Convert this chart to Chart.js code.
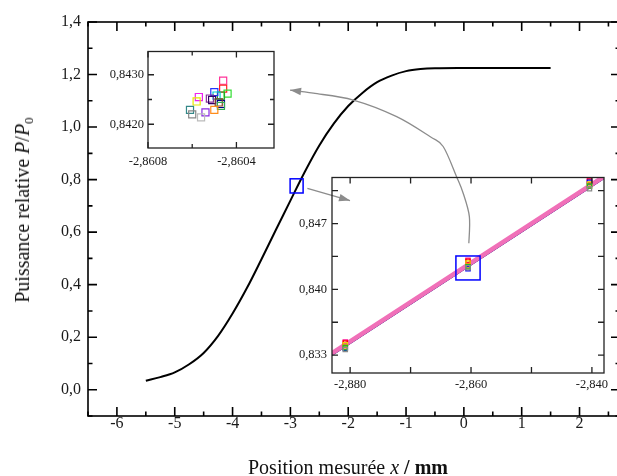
<!DOCTYPE html>
<html><head><meta charset="utf-8">
<script src="https://cdn.jsdelivr.net/npm/chart.js@4"></script>
<style>
html,body{margin:0;padding:0;background:#fff;overflow:hidden;width:617px;height:476px}
#wrap{position:relative;width:617px;height:476px;overflow:hidden}
canvas{position:absolute}
#main{left:0;top:0}
#in1{left:100px;top:40px}
#in2{left:280px;top:165px}
.t{position:absolute;font-family:"Liberation Serif","Times New Roman",serif;font-size:20px;color:#111;white-space:nowrap;line-height:20px}
.t sub{font-size:0.65em;vertical-align:-0.3em;line-height:0}
#xt{left:348px;top:457px;transform:translateX(-50%)}
#yt{left:22px;top:210px;transform:translate(-50%,-50%) rotate(-90deg)}
</style></head><body>
<div id="wrap">
<canvas id="main" width="630" height="476"></canvas>
<canvas id="in1" width="185" height="135"></canvas>
<canvas id="in2" width="337" height="240"></canvas>
<div class="t" id="xt">Position mesurée <i>x</i> <b>/ mm</b></div>
<div class="t" id="yt">Puissance relative <i>P</i>/<i>P</i><sub>0</sub></div>
</div>
<script>
// ---------- main curve ----------
const mainX = [-5.5,-5.25,-5.0,-4.75,-4.5,-4.25,-4.0,-3.75,-3.5,-3.25,-3.0,-2.75,-2.5,-2.25,-2.0,-1.75,-1.5,-1.25,-1.0,-0.75,-0.5,0,0.5,1.0,1.5];
const mainY = [0.034,0.048,0.066,0.097,0.140,0.205,0.290,0.388,0.497,0.609,0.720,0.830,0.930,1.013,1.080,1.131,1.171,1.196,1.213,1.221,1.224,1.225,1.225,1.225,1.225];
const mainXTicks = [-6,-5,-4,-3,-2,-1,0,1,2];
const mainXTickLabels = ['-6','-5','-4','-3','-2','-1','0','1','2'];
const mainYTicks = [0,0.2,0.4,0.6,0.8,1.0,1.2,1.4];
const mainYTickLabels = ['0,0','0,2','0,4','0,6','0,8','1,0','1,2','1,4'];
// blue box on main curve [xmin,xmax,ymin,ymax]
const mainBox = [-3.005,-2.78,0.749,0.803];
// arrows (main data coordinates)
const arrow1 = [[-2.706,0.767],[-1.969,0.720]];
const arrow2 = [[0.086,0.558],[0.095,0.659],[-0.012,0.748],[-0.126,0.811],[-0.358,0.926],[-0.587,0.964],[-1.162,1.040],[-1.912,1.103],[-2.603,1.129],[-3.005,1.141]];

// ---------- inset 1 (zoomed scatter) ----------
const in1X = [-2.86046,-2.86046,-2.86044,-2.86047,-2.86050,-2.86049,-2.86057,-2.86058,-2.86052,-2.86051,-2.86047,-2.86048,-2.86047,-2.86050,-2.86054,-2.86061,-2.86060,-2.86056];
const in1Y = [0.84288,0.84272,0.84262,0.84258,0.84265,0.84258,0.84255,0.84246,0.84252,0.84249,0.84241,0.84244,0.84237,0.84229,0.84224,0.84229,0.84220,0.84214];
const in1Colors = ['#ff3399','#ff2222','#33dd33','#22aa22','#2233ff','#00cccc','#ee22ee','#e8e800','#883399','#330066','#000088','#884422','#33aa55','#ff8c1a','#8a2be2','#338888','#888888','#bbbbbb'];
const in1XTicks = [-2.8608,-2.8604];
const in1XTickLabels = ['-2,8608','-2,8604'];
const in1YTicks = [0.8420,0.8430];
const in1YTickLabels = ['0,8420','0,8430'];

// ---------- inset 2 (linear zoom) ----------
const in2LineX = [-2.883,-2.838];
const in2LinePink = [0.83322,0.85202];
const in2LineMagenta = [0.83314,0.85194];
const in2LinePurple = [0.83306,0.85186];
const in2LineNavy = [0.83300,0.85180];
const in2MarkX = [-2.8808,-2.8605,-2.8404];
const in2Pink = [0.8344,0.8431,0.8516];
const in2Red = [0.8343,0.8430,0.8515];
const in2Yellow = [0.8341,0.8428,0.8512];
const in2Orange = [0.8339,0.8425,0.8510];
const in2Green = [0.8338,0.8424,0.8510];
const in2Gray = [0.8336,0.8423,0.8507];
const in2Blue = [0.8337,0.8422,0.8514];
const in2XTicks = [-2.880,-2.860,-2.840];
const in2XTickLabels = ['-2,880','-2,860','-2,840'];
const in2YTicks = [0.833,0.840,0.847];
const in2YTickLabels = ['0,833','0,840','0,847'];
const in2Box = [-2.8625,-2.8585,0.8410,0.84355];

// ---------- helpers ----------
const SERIF = '"Liberation Serif","Times New Roman",serif';
const pts = (xs, ys) => xs.map((x, i) => ({x, y: ys[i]}));
function minors(min, max, step, offset) {
  const out = [];
  for (let v = Math.ceil((min - offset) / step) * step + offset; v <= max + 1e-12; v += step) out.push(+v.toFixed(6));
  return out;
}
function frameTicks(cfg) {
  return {
    id: 'frameTicks',
    afterDatasetsDraw(chart) {
      const {ctx, chartArea: a, scales: {x, y}} = chart;
      ctx.save();
      ctx.strokeStyle = cfg.color; ctx.lineWidth = cfg.lw;
      ctx.beginPath();
      const xs = [[x.ticks.map(t => t.value), cfg.major], [cfg.xMinor, cfg.minor]];
      for (const [vals, len] of xs) for (const v of vals) {
        const p = x.getPixelForValue(v);
        if (p < a.left - 0.5 || p > a.right + 0.5) continue;
        ctx.moveTo(p, a.bottom); ctx.lineTo(p, a.bottom - len);
        ctx.moveTo(p, a.top); ctx.lineTo(p, a.top + len);
      }
      const ys = [[y.ticks.map(t => t.value), cfg.major], [cfg.yMinor, cfg.minor]];
      for (const [vals, len] of ys) for (const v of vals) {
        const p = y.getPixelForValue(v);
        if (p < a.top - 0.5 || p > a.bottom + 0.5) continue;
        ctx.moveTo(a.left, p); ctx.lineTo(a.left + len, p);
        ctx.moveTo(a.right, p); ctx.lineTo(a.right - len, p);
      }
      ctx.stroke();
      ctx.strokeRect(a.left, a.top, a.width, a.height);
      if (cfg.box) {
        const b = cfg.box;
        const x0 = x.getPixelForValue(b[0]), x1 = x.getPixelForValue(b[1]);
        const y0 = y.getPixelForValue(b[3]), y1 = y.getPixelForValue(b[2]);
        ctx.strokeStyle = '#0000ff'; ctx.lineWidth = 1.5;
        ctx.strokeRect(x0, y0, x1 - x0, y1 - y0);
      }
      ctx.restore();
      if (cfg.after) cfg.after(chart);
    }
  };
}
function axis(min, max, ticks, labels, size, pad, fit, fitVal) {
  return {
    type: 'linear', min, max,
    border: {display: false},
    grid: {display: false, drawTicks: false},
    afterBuildTicks: s => { s.ticks = ticks.map(v => ({value: v})); },
    afterFit: s => { s[fit] = fitVal; },
    ticks: {
      autoSkip: false, maxRotation: 0, padding: pad, color: '#1a1a1a',
      font: {family: SERIF, size},
      callback: (v, i) => labels[i]
    }
  };
}
function arrowHead(ctx, tip, from, len, half) {
  const ang = Math.atan2(tip[1] - from[1], tip[0] - from[0]);
  ctx.beginPath();
  ctx.moveTo(tip[0], tip[1]);
  ctx.lineTo(tip[0] - len * Math.cos(ang) + half * Math.sin(ang), tip[1] - len * Math.sin(ang) - half * Math.cos(ang));
  ctx.lineTo(tip[0] - len * Math.cos(ang) - half * Math.sin(ang), tip[1] - len * Math.sin(ang) + half * Math.cos(ang));
  ctx.closePath();
  ctx.fill();
}
function drawArrows(chart) {
  const {ctx, scales: {x, y}} = chart;
  const P = p => [x.getPixelForValue(p[0]), y.getPixelForValue(p[1])];
  ctx.save();
  ctx.strokeStyle = '#8c8c8c'; ctx.fillStyle = '#8c8c8c'; ctx.lineWidth = 1.3;
  const a = arrow1.map(P);
  ctx.beginPath(); ctx.moveTo(a[0][0], a[0][1]); ctx.lineTo(a[1][0], a[1][1]); ctx.stroke();
  arrowHead(ctx, a[1], a[0], 11, 3.8);
  const c = arrow2.map(P);
  ctx.beginPath(); ctx.moveTo(c[0][0], c[0][1]);
  for (let i = 0; i < c.length - 1; i++) {
    const p0 = c[i - 1] || c[i], p1 = c[i], p2 = c[i + 1], p3 = c[i + 2] || p2;
    ctx.bezierCurveTo(p1[0] + (p2[0] - p0[0]) / 6, p1[1] + (p2[1] - p0[1]) / 6,
                      p2[0] - (p3[0] - p1[0]) / 6, p2[1] - (p3[1] - p1[1]) / 6, p2[0], p2[1]);
  }
  ctx.stroke();
  arrowHead(ctx, c[c.length - 1], c[c.length - 2], 11, 3.8);
  ctx.restore();
}

// ---------- main chart ----------
new Chart(document.getElementById('main'), {
  type: 'line',
  data: {datasets: [{
    data: pts(mainX, mainY), borderColor: '#000', borderWidth: 2, pointRadius: 0,
    tension: 0.35, fill: false
  }]},
  options: {
    responsive: false, animation: false, devicePixelRatio: 1,
    layout: {padding: {left: 0, top: 22, right: 10, bottom: 0}},
    plugins: {legend: {display: false}, tooltip: {enabled: false}},
    scales: {
      x: axis(-6.5, 2.7, mainXTicks, mainXTickLabels, 16, -2, 'height', 60),
      y: axis(-0.1, 1.4, mainYTicks, mainYTickLabels, 16, 7, 'width', 88)
    }
  },
  plugins: [frameTicks({color: '#000', lw: 1.6, major: 9, minor: 4.5,
    xMinor: minors(-6.5, 2.7, 1, 0.5), yMinor: minors(-0.1, 1.4, 0.2, 0.1),
    box: mainBox, after: drawArrows})]
});

// ---------- inset 1 ----------
new Chart(document.getElementById('in1'), {
  type: 'scatter',
  data: {datasets: [{
    data: pts(in1X, in1Y), pointStyle: 'rect', pointRadius: 5, pointBorderWidth: 1.2,
    pointBorderColor: in1Colors, pointBackgroundColor: 'rgba(0,0,0,0)', showLine: false
  }]},
  options: {
    responsive: false, animation: false, devicePixelRatio: 1,
    layout: {padding: {left: 0, top: 8, right: 11, bottom: 0}},
    plugins: {legend: {display: false}, tooltip: {enabled: false}},
    scales: {
      x: axis(-2.8608, -2.86023, in1XTicks, in1XTickLabels, 12.5, 6, 'height', 27),
      y: axis(0.84152, 0.84347, in1YTicks, in1YTickLabels, 12.5, 4, 'width', 48)
    }
  },
  plugins: [frameTicks({color: '#222', lw: 1.3, major: 6, minor: 4,
    xMinor: [-2.8606], yMinor: [0.8425]})]
});

// ---------- inset 2 ----------
const lineDs = (ys, color, w) => ({type: 'line', data: pts(in2LineX, ys), borderColor: color, borderWidth: w, pointRadius: 0, clip: 0, order: 2});
const markDs = (ys, color) => ({type: 'scatter', data: pts(in2MarkX, ys), pointStyle: 'rect', pointRadius: 3, pointBorderWidth: 1.3,
  pointBorderColor: color, pointBackgroundColor: 'rgba(0,0,0,0)', order: 1});
new Chart(document.getElementById('in2'), {
  type: 'scatter',
  data: {datasets: [
    lineDs(in2LinePink, '#f070b8', 4.5),
    lineDs(in2LineMagenta, '#c848c0', 3),
    lineDs(in2LinePurple, '#6a3090', 2),
    lineDs(in2LineNavy, '#22227a', 1.2),
    markDs(in2Gray, '#8a8a8a'), markDs(in2Green, '#22bb22'), markDs(in2Orange, '#ff8c1a'),
    markDs(in2Yellow, '#e8d800'), markDs(in2Blue, '#0000ff'), markDs(in2Red, '#ff0000'), markDs(in2Pink, '#ff1493')
  ]},
  options: {
    responsive: false, animation: false, devicePixelRatio: 1,
    layout: {padding: {left: 0, top: 10, right: 13, bottom: 0}},
    plugins: {legend: {display: false}, tooltip: {enabled: false}},
    scales: {
      x: axis(-2.883, -2.838, in2XTicks, in2XTickLabels, 12.5, 4, 'height', 32),
      y: axis(0.8311, 0.8519, in2YTicks, in2YTickLabels, 12.5, 5, 'width', 52)
    }
  },
  plugins: [frameTicks({color: '#222', lw: 1.3, major: 6, minor: 6,
    xMinor: [-2.870, -2.850], yMinor: [0.8365, 0.8435, 0.8505], box: in2Box})]
});
</script>
</body></html>
